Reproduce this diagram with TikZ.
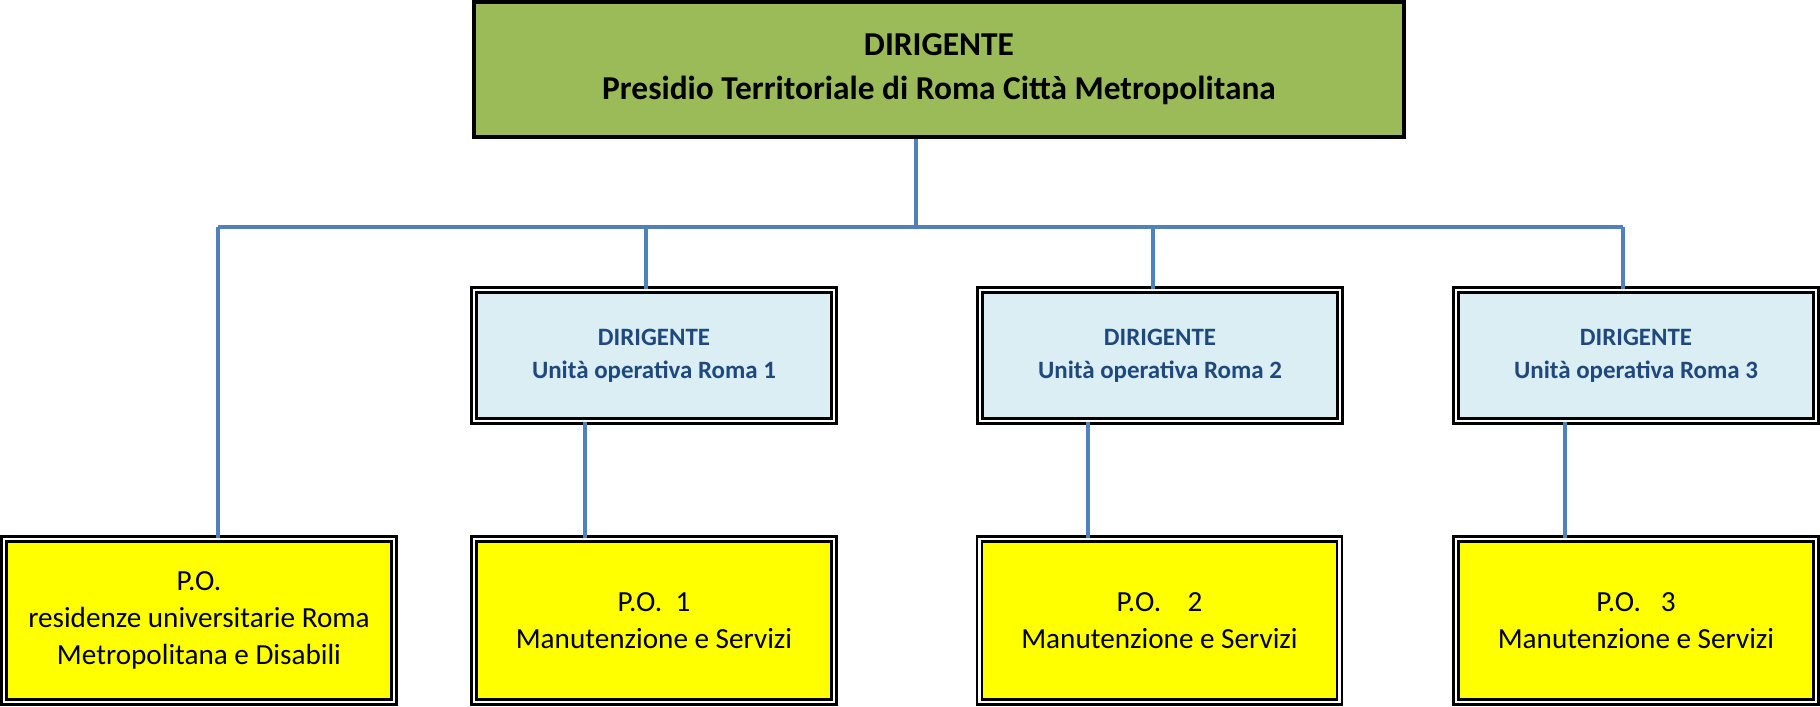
\documentclass[tikz,border=0pt]{standalone}
\usepackage{fontspec}
\setmainfont{Carlito}
\usetikzlibrary{positioning, calc}
\definecolor{orggreen}{HTML}{9BBB59}
\definecolor{orgblue}{HTML}{DAEEF3}
\definecolor{orgnavy}{HTML}{1F497D}
\definecolor{orgline}{HTML}{4F81BD}
\definecolor{orgyellow}{HTML}{FFFF00}

\begin{document}
\begin{tikzpicture}[
  headbox/.style={draw=black, line width=1pt, fill=orggreen, minimum width=9.3cm, minimum height=1.35cm,
    align=center, inner sep=0pt, font=\fontsize{9.5}{12.5}\selectfont\bfseries},
  unitbox/.style={draw=black, line width=0.8pt, double=white, double distance=0.6pt, fill=orgblue, text=orgnavy,
    minimum width=3.6cm, minimum height=1.31cm, align=center, inner sep=0pt, font=\fontsize{7.1}{9.5}\selectfont\bfseries},
  pobox/.style={draw=black, line width=0.8pt, double=white, double distance=0.6pt, fill=orgyellow,
    minimum width=3.6cm, minimum height=1.63cm, align=center, inner sep=0pt, font=\fontsize{8.3}{10.6}\selectfont},
  link/.style={draw=orgline, line width=1.2pt}
]
  \useasboundingbox (0,0) rectangle (18.2,7.06);

  \node[headbox] (head) at (9.39,6.365) {DIRIGENTE\\Presidio Territoriale di Roma Città Metropolitana};

  \node[unitbox] (ud1) at (6.54,3.505) {DIRIGENTE\\Unità operativa Roma 1};
  \node[unitbox] (ud2) at (11.60,3.505) {DIRIGENTE\\Unità operativa Roma 2};
  \node[unitbox] (ud3) at (16.36,3.505) {DIRIGENTE\\Unità operativa Roma 3};

  \node[pobox, minimum width=3.9cm] (po0) at (1.99,0.855) {P.O.\\residenze universitarie Roma\\Metropolitana e Disabili};
  \node[pobox] (po1) at (6.54,0.855) {P.O.\ \ 1\\Manutenzione e Servizi};
  \node[pobox] (po2) at (11.595,0.855) {P.O.\ \ \ \ 2\\Manutenzione e Servizi};
  \node[pobox] (po3) at (16.36,0.855) {P.O.\ \ \ 3\\Manutenzione e Servizi};

  \coordinate (hub) at (9.16,4.79);
  \coordinate (busL) at (2.18,4.79);
  \coordinate (busR) at (16.23,4.79);
  \coordinate (tap1) at (6.46,4.79);
  \coordinate (tap2) at (11.53,4.79);

  \draw[link] (head.south -| hub) -- (hub);
  \draw[link] (busL) -- (busR);
  \draw[link] (busL) -- (busL |- po0.north);
  \draw[link] (tap1) -- (tap1 |- ud1.north);
  \draw[link] (tap2) -- (tap2 |- ud2.north);
  \draw[link] (busR) -- (busR |- ud3.north);

  \foreach \i/\dx in {1/-0.69, 2/-0.72, 3/-0.71}
    \draw[link] ([xshift=\dx cm]ud\i.south) -- ([xshift=\dx cm]ud\i.south |- po\i.north);
\end{tikzpicture}
\end{document}
